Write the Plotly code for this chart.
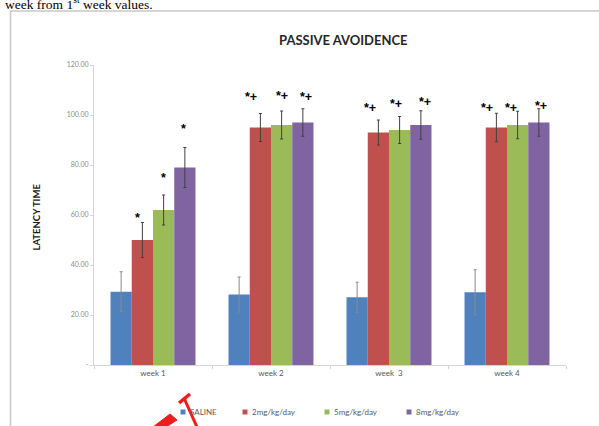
import plotly.graph_objects as go

# ---- data -------------------------------------------------------------
weeks = ["week 1", "week 2", "week  3", "week 4"]
groups = ["SALINE", "2mg/kg/day", "5mg/kg/day", "8mg/kg/day"]

saline = [29.3, 28.2, 27.1, 29.1]
dose_2 = [50.0, 95.0, 93.0, 95.0]
dose_5 = [62.0, 96.0, 94.0, 96.0]
dose_8 = [79.0, 97.0, 96.0, 97.0]

saline_sd = [8.0, 7.0, 6.0, 9.0]
dose_2_sd = [7.0, 5.6, 5.0, 5.7]
dose_5_sd = [6.0, 5.6, 5.4, 5.5]
dose_8_sd = [8.0, 5.5, 5.7, 5.5]

# significance marks (vs saline "*", vs week 1 "+") and their heights
sig_text = ["*", "*+", "*+", "*+"]
sig_y_2 = [60.2, 108.6, 104.2, 104.2]
sig_y_5 = [76.2, 108.9, 105.5, 104.0]
sig_y_8 = [95.5, 108.6, 106.6, 105.0]

y_ticks = [0, 20, 40, 60, 80, 100, 120]
y_tick_text = ["-", "20.00", "40.00", "60.00", "80.00", "100.00", "120.00"]

# ---- style ------------------------------------------------------------
colors = ["#4F81BD", "#C0504D", "#9BBB59", "#8064A2"]
W, H = 599, 426
L, R, T, B = 94, 566, 65, 365

def paper(xp, yp):
    """Pixel position -> paper coordinates of the plotting area."""
    return (xp - L) / (R - L), (B - yp) / (B - T)

fig = go.Figure()
series = [saline, dose_2, dose_5, dose_8]
errors = [saline_sd, dose_2_sd, dose_5_sd, dose_8_sd]
err_col = ["#8a8a8a", "#404040", "#404040", "#404040"]
for name, vals, sd, c, ec in zip(groups, series, errors, colors, err_col):
    fig.add_trace(go.Bar(
        x=weeks, y=vals, name=name, marker_color=c, marker_line_width=0,
        error_y=dict(type="data", array=sd, color=ec, thickness=1, width=1.5),
        showlegend=False,
    ))

# star / plus annotations above the dosed groups
bar_offset = [-10.6, 10.6, 31.9]
nudges = [[-4.6, -9, -8, -9], [0, 0.4, -3.5, -7], [-1.7, 3.3, 4, 2.5]]
annotations = []
for k, ys in enumerate([sig_y_2, sig_y_5, sig_y_8]):
    for j, wk in enumerate(weeks):
        annotations.append(dict(
            x=wk, y=ys[j], xref="x", yref="y", text="<b>" + sig_text[j] + "</b>",
            showarrow=False, xanchor="center", yanchor="middle",
            xshift=bar_offset[k] + nudges[k][j], yshift=-3,
            font=dict(family="Liberation Sans", size=12.5, color="#000000"),
        ))

# chart title and axis title
tx, ty = paper(343, 30)
annotations.append(dict(x=tx, y=ty, xref="paper", yref="paper",
                        text="<b>PASSIVE AVOIDENCE</b>", showarrow=False,
                        font=dict(family="Lato", size=13, color="#262626")))
ax_, ay_ = paper(29, 217)
annotations.append(dict(x=ax_, y=ay_, xref="paper", yref="paper",
                        text="<b>LATENCY TIME</b>", showarrow=False, textangle=-90,
                        font=dict(family="Lato", size=9.5, color="#1a1a1a")))

# line of running text above the chart frame
px_, py_ = paper(3, 4)
annotations.append(dict(x=px_, y=py_, xref="paper", yref="paper",
                        text="week from 1<sup>st</sup> week values.", showarrow=False,
                        xanchor="left", yanchor="middle",
                        font=dict(family="Liberation Serif", size=13.5, color="#000000")))

shapes = []
# legend drawn below the axis
legend_x = [183, 245, 327, 409]
for c, name, lx in zip(colors, groups, legend_x):
    x0, y0 = paper(lx - 2.5, 414.5)
    x1, y1 = paper(lx + 2.5, 409.5)
    shapes.append(dict(type="rect", xref="paper", yref="paper", x0=x0, y0=y0,
                       x1=x1, y1=y1, fillcolor=c, line_width=0))
    tx_, ty_ = paper(lx + 4.5, 412)
    annotations.append(dict(x=tx_, y=ty_, xref="paper", yref="paper", text=name,
                            showarrow=False, xanchor="left", yanchor="middle",
                            font=dict(family="Lato", size=8, color="#595959")))

# chart frame
fx0, fy0 = paper(10.5, 11)
fx1, fy1 = paper(610, 440)
shapes.append(dict(type="rect", xref="paper", yref="paper", x0=fx0, y0=fy0,
                   x1=fx1, y1=fy1, line=dict(color="#c8c8c8", width=1.5),
                   fillcolor="rgba(0,0,0,0)", layer="below"))

# red pen strokes over the legend
def path(points, close=False):
    d = ""
    for i, (x, y) in enumerate(points):
        px, py = paper(x, y)
        d += ("M" if i == 0 else "L") + f"{px:.5f},{py:.5f} "
    return d + ("Z" if close else "")

red = "#ee1c1c"
shapes.append(dict(type="path", xref="paper", yref="paper",
                   path=path([(179, 403), (190, 394)]), line=dict(color=red, width=3.5)))
shapes.append(dict(type="path", xref="paper", yref="paper",
                   path=path([(184, 398), (197, 427)]), line=dict(color=red, width=3)))
shapes.append(dict(type="path", xref="paper", yref="paper",
                   path=path([(153, 427), (170, 414), (177, 420), (166, 427)], close=True),
                   fillcolor=red, line=dict(color=red, width=1)))

fig.update_layout(
    width=W, height=H,
    margin=dict(l=L, r=W - R, t=T, b=H - B, pad=0),
    paper_bgcolor="white", plot_bgcolor="white",
    barmode="group", bargap=0.28, bargroupgap=0,
    showlegend=False,
    annotations=annotations, shapes=shapes,
    xaxis=dict(type="category", showline=True, linecolor="#d4d4d4", linewidth=1,
               ticks="outside", tickson="boundaries", ticklen=3, tickcolor="#d4d4d4",
               showgrid=False, tickfont=dict(family="Lato", size=8, color="#595959")),
    yaxis=dict(range=[0, 120], tickvals=y_ticks, ticktext=y_tick_text,
               showline=True, linecolor="#d4d4d4", linewidth=1, ticks="outside",
               ticklen=3, tickcolor="#d4d4d4", showgrid=False, zeroline=False,
               tickfont=dict(family="Lato", size=7, color="#8c8c8c")),
)

fig.write_html("out.html")
